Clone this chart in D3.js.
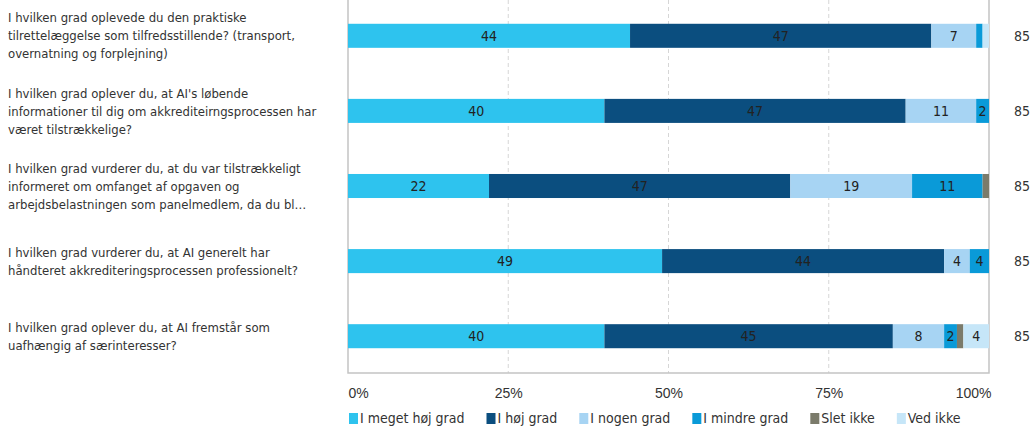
<!DOCTYPE html>
<html>
<head>
<meta charset="utf-8">
<script src="https://cdn.jsdelivr.net/npm/d3@7"></script>
<style>
  body { margin: 0; background: #fff; }
  svg { font-family: "DejaVu Sans Condensed", "DejaVu Sans", Verdana, sans-serif; }
</style>
</head>
<body>
<svg width="1033" height="433"></svg>
<script>
'use strict';

// questions, one per bar (lines as shown)
const questions = [
  ["I hvilken grad oplevede du den praktiske", "tilrettelæggelse som tilfredsstillende? (transport,", "overnatning og forplejning)"],
  ["I hvilken grad oplever du, at AI's løbende", "informationer til dig om akkrediteirngsprocessen har", "været tilstrækkelige?"],
  ["I hvilken grad vurderer du, at du var tilstrækkeligt", "informeret om omfanget af opgaven og", "arbejdsbelastningen som panelmedlem, da du bl…"],
  ["I hvilken grad vurderer du, at AI generelt har", "håndteret akkrediteringsprocessen professionelt?"],
  ["I hvilken grad oplever du, at AI fremstår som", "uafhængig af særinteresser?"]
];

const categories = ["I meget høj grad", "I høj grad", "I nogen grad", "I mindre grad", "Slet ikke", "Ved ikke"];
const colors = ["#2ec3ee", "#0b4e7f", "#a7d4f3", "#0a9ad8", "#7b7b6b", "#c6e6f8"];

// percentages per question, in category order
const meget = [44, 40, 22, 49, 40];
const hoj = [47, 47, 47, 44, 45];
const nogen = [7, 11, 19, 4, 8];
const mindre = [1, 2, 11, 4, 2];
const slet = [0, 0, 1, 0, 1];
const vedIkke = [1, 0, 0, 0, 4];
const counts = [85, 85, 85, 85, 85];

const series = [meget, hoj, nogen, mindre, slet, vedIkke];
const ticks = [0, 25, 50, 75, 100];

const svg = d3.select("svg");
const plotL = 348, plotR = 989, plotT = -1, plotB = 373;

const x = d3.scaleLinear().domain([0, 100]).range([plotL, plotR]);
const y = d3.scaleBand().domain(d3.range(questions.length)).range([plotT, plotB]).paddingInner(0.68).paddingOuter(0.33);

// gridlines
svg.append("g").selectAll("line")
  .data(ticks.slice(1, -1))
  .enter().append("line")
    .attr("x1", d => x(d)).attr("x2", d => x(d))
    .attr("y1", 0).attr("y2", plotB)
    .attr("stroke", "#d6d6d6")
    .attr("stroke-dasharray", "4,3");

// frame
svg.append("path")
  .attr("d", `M${plotL},0V${plotB}H${plotR}V0`)
  .attr("fill", "none")
  .attr("stroke", "#c4c4c4")
  .attr("stroke-width", 1.5);

// stacked bars
const rows = questions.map((q, i) => {
  let acc = 0;
  return series.map((s, k) => {
    const seg = { row: i, cat: k, v: s[i], x0: acc, x1: Math.min(100, acc + s[i]) };
    acc += s[i];
    return seg;
  }).filter(d => d.v > 0);
});

const segs = rows.flat();

svg.append("g").selectAll("rect")
  .data(segs)
  .enter().append("rect")
    .attr("x", d => x(d.x0))
    .attr("y", d => y(d.row))
    .attr("width", d => x(d.x1) - x(d.x0))
    .attr("height", y.bandwidth())
    .attr("fill", d => colors[d.cat]);

svg.append("g").selectAll("text")
  .data(segs.filter(d => d.v >= 2))
  .enter().append("text")
    .attr("x", d => (x(d.x0) + x(d.x1)) / 2)
    .attr("y", d => y(d.row) + y.bandwidth() / 2)
    .attr("dy", "0.36em")
    .attr("text-anchor", "middle")
    .attr("font-size", 14)
    .attr("fill", "#222")
    .text(d => d.v);

// counts on the right
svg.append("g").selectAll("text")
  .data(counts)
  .enter().append("text")
    .attr("x", 1022)
    .attr("y", (d, i) => y(i) + y.bandwidth() / 2)
    .attr("dy", "0.36em")
    .attr("text-anchor", "middle")
    .attr("font-size", 14)
    .attr("fill", "#333")
    .text(d => d);

// question labels
const lineH = 18;
questions.forEach((lines, i) => {
  const cy = y(i) + y.bandwidth() / 2;
  const t = svg.append("text")
    .attr("font-size", 13)
    .attr("fill", "#333");
  lines.forEach((ln, j) => {
    t.append("tspan")
      .attr("x", 8)
      .attr("y", cy + (j - (lines.length - 1) / 2) * lineH)
      .attr("dy", "0.36em")
      .text(ln);
  });
});

// x axis
const axis = svg.append("g")
  .attr("transform", `translate(0,${plotB})`)
  .call(d3.axisBottom(x).tickValues(ticks).tickFormat(d => d + "%").tickSize(0).tickPadding(15));
axis.select(".domain").remove();
axis.selectAll("text")
  .attr("font-size", 14)
  .attr("font-family", null)
  .attr("fill", "#333")
  .attr("text-anchor", d => d === 0 ? "start" : d === 100 ? "end" : "middle")
  .attr("dx", d => d === 100 ? 2 : 0);

// legend
const legend = svg.append("g").attr("transform", "translate(349,418)");
let lx = 0;
categories.forEach((c, k) => {
  const g = legend.append("g").attr("transform", `translate(${lx},0)`);
  g.append("rect")
    .attr("x", 0).attr("y", -5)
    .attr("width", 9).attr("height", 11)
    .attr("fill", colors[k]);
  const t = g.append("text")
    .attr("x", 11).attr("y", 0)
    .attr("dy", "0.36em")
    .attr("font-size", 14)
    .attr("fill", "#333")
    .text(c);
  lx += 11 + t.node().getComputedTextLength() + 22;
});
</script>
</body>
</html>
